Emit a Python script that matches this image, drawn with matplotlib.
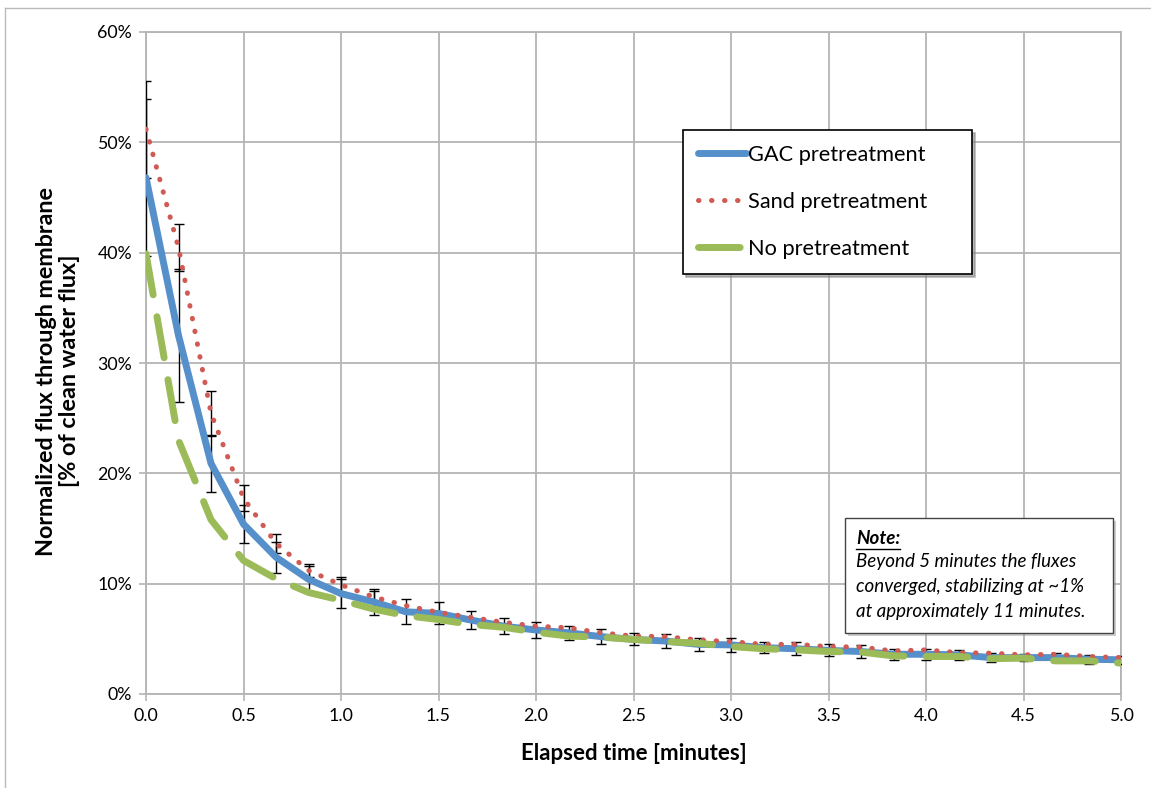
import numpy as np
import matplotlib
matplotlib.use('Agg')
import matplotlib.pyplot as plt
from matplotlib.lines import Line2D
from matplotlib.patches import Rectangle
from matplotlib.ticker import FuncFormatter

plt.rcParams['font.family'] = ['Lato', 'DejaVu Sans']

# sampling every 10 s over the first 5 minutes
elapsed_s = [0, 10, 20, 30, 40, 50, 60, 70, 80, 90, 100, 110, 120, 130, 140, 150,
             160, 170, 180, 190, 200, 210, 220, 230, 240, 250, 260, 270, 280, 290, 300]

# normalized flux, % of clean water flux
gac = [46.8, 32.5, 20.9, 15.4, 12.4, 10.4, 9.1, 8.35, 7.45, 7.3, 6.7, 6.15, 5.8, 5.55, 5.2, 4.95,
       4.8, 4.5, 4.45, 4.2, 4.1, 3.95, 3.85, 3.6, 3.6, 3.55, 3.3, 3.3, 3.3, 3.15, 3.1]
gac_err = [7.1, 6.0, 2.6, 1.75, 1.4, 1.2, 1.3, 1.15, 1.15, 1.0, 0.8, 0.7, 0.7, 0.65, 0.7, 0.55,
           0.6, 0.6, 0.6, 0.5, 0.6, 0.55, 0.55, 0.5, 0.5, 0.45, 0.4, 0.35, 0.4, 0.4, 0.35]

sand = [51.2, 40.45, 25.45, 17.75, 13.65, 11.2, 9.9, 8.8, 8.0, 7.4, 6.95, 6.5, 6.15, 6.0, 5.55, 5.25,
        5.2, 4.9, 4.75, 4.5, 4.5, 4.3, 4.25, 3.9, 4.0, 3.75, 3.7, 3.55, 3.6, 3.4, 3.3]
sand_err = [4.4, 2.15, 2.05, 1.15, 0.85, 0.6, 0.7, 0.5]

none = [39.9, 23.0, 15.8, 12.1, 10.45, 9.2, 8.5, 7.7, 7.1, 6.75, 6.3, 6.05, 5.6, 5.25, 5.15, 4.95,
        4.75, 4.6, 4.3, 4.1, 4.0, 3.85, 3.8, 3.45, 3.4, 3.4, 3.2, 3.25, 3.0, 3.0, 2.8]

labels = ['GAC pretreatment', 'Sand pretreatment', 'No pretreatment']
note_lines = ['Beyond 5 minutes the fluxes',
              'converged, stabilizing at ~1%',
              'at approximately 11 minutes.']

t = np.array(elapsed_s) / 60.0

W, H = 1151, 788
fig = plt.figure(figsize=(W / 100, H / 100), dpi=100)
ax = fig.add_axes([146 / W, 1 - 694 / H, 975 / W, 662 / H])

grid_c = '#B4B4B4'
ax.set_xlim(0, 5)
ax.set_ylim(0, 60)
ax.set_xticks(np.arange(0, 5.01, 0.5))
ax.set_yticks(np.arange(0, 61, 10))
ax.xaxis.set_major_formatter(FuncFormatter(lambda v, p: f'{v:.1f}'))
ax.yaxis.set_major_formatter(FuncFormatter(lambda v, p: f'{v:.0f}%'))
ax.grid(True, color=grid_c, lw=1.3)
ax.set_axisbelow(True)
for s in ax.spines.values():
    s.set_color(grid_c)
    s.set_linewidth(1.3)
ax.tick_params(colors=grid_c, labelcolor='black', labelsize=12.8, length=5, width=1.2, pad=5)

# error bars
ax.errorbar(t, gac, yerr=gac_err, fmt='none', ecolor='black', elinewidth=1, capsize=3.6,
            capthick=1, zorder=3)
ax.errorbar(t[:len(sand_err)], sand[:len(sand_err)], yerr=sand_err, fmt='none',
            ecolor='black', elinewidth=1, capsize=3.6, capthick=1, zorder=3)

ax.plot(t, gac, color='#5690CB', lw=5, solid_capstyle='round', zorder=4, label=labels[0])
ax.plot(t, sand, color='#D05A54', lw=3.6, ls=(0, (0.1, 2.5)), dash_capstyle='round',
        zorder=5, label=labels[1])
ax.plot(t, none, color='#9BBB59', lw=5, ls=(0, (6, 3.2)), dash_capstyle='round',
        zorder=6, label=labels[2])

leg = ax.legend(loc='upper left',
                bbox_to_anchor=(537 / 975, (694 - 130) / 662 - 0.01, 289 / 975, 0.01),
                mode='expand', borderaxespad=0, frameon=True, fancybox=False,
                shadow={'color': '#888888', 'alpha': 0.6},
                fontsize=15.7, handlelength=2.2, handletextpad=0.1, labelspacing=1.24,
                borderpad=0.68)
leg.get_frame().set_edgecolor('black')
leg.get_frame().set_linewidth(1.2)

# note box
fig.patches.append(Rectangle((848 / W, 1 - 636 / H), 268 / W, 115 / H,
                             transform=fig.transFigure, facecolor='#9a9a9a', alpha=0.5,
                             edgecolor='none', zorder=8))
fig.patches.append(Rectangle((845 / W, 1 - 633 / H), 268 / W, 115 / H,
                             transform=fig.transFigure, facecolor='white',
                             edgecolor='#444444', lw=1, zorder=9))
fig.text(856 / W, 1 - 538 / H, 'Note:', fontsize=13.5, style='italic', weight='bold',
         va='center', zorder=10)
fig.add_artist(Line2D([856 / W, 900 / W], [1 - 549 / H, 1 - 549 / H], color='black', lw=1,
                      transform=fig.transFigure, zorder=10))
for i, line in enumerate(note_lines):
    fig.text(856 / W, 1 - (562 + i * 24.5) / H, line, fontsize=13.5, style='italic',
             va='center', zorder=10)

fig.text(633.5 / W, 1 - 753 / H, 'Elapsed time [minutes]', fontsize=16, weight='bold',
         ha='center', va='center')
fig.text(58 / W, 1 - 371 / H, 'Normalized flux through membrane\n[% of clean water flux]',
         fontsize=16.8, weight='bold', ha='center', va='center', rotation=90,
         multialignment='center', linespacing=1.12)

# chart area border
fig.add_artist(Line2D([5 / W, 5 / W], [0, 1 - 8 / H], color='#BBBBBB', lw=1,
                      transform=fig.transFigure))
fig.add_artist(Line2D([5 / W, 1], [1 - 8 / H, 1 - 8 / H], color='#BBBBBB', lw=1,
                      transform=fig.transFigure))

fig.savefig('out.png', dpi=100)
